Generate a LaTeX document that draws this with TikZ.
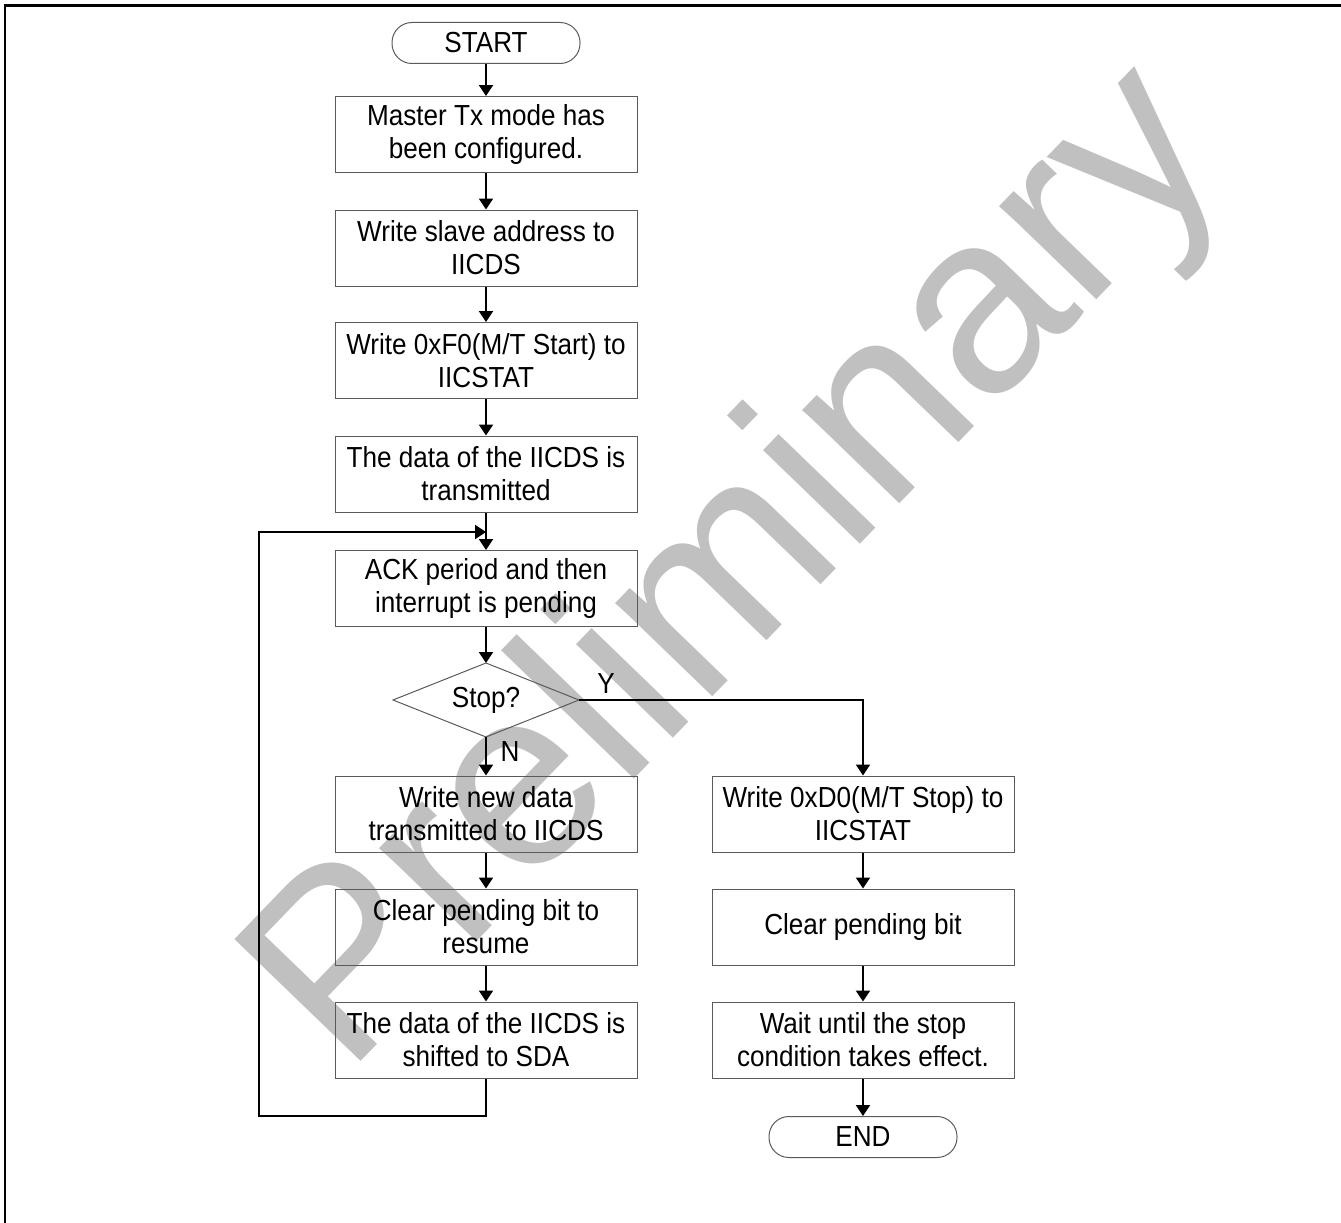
\documentclass[tikz,border=0pt]{standalone}
\usepackage{fontspec}
\setmainfont{Liberation Sans}
\newfontfamily\narrowsans[FakeStretch=0.9]{Liberation Sans}
\usetikzlibrary{arrows.meta}
\definecolor{wm}{RGB}{192,192,192}
\definecolor{boxline}{RGB}{90,90,90}
\tikzset{
  txt/.style={font=\narrowsans\fontsize{29}{33}\selectfont, align=center, inner sep=0pt},
  procbox/.style={txt, draw=boxline, line width=1pt, minimum width=302pt, minimum height=76pt},
  termbox/.style={txt, draw=boxline, line width=1pt, minimum width=188pt, minimum height=41pt, rounded corners=20pt},
  decbox/.style={draw=boxline, line width=1pt},
  conn/.style={line width=2pt, black},
  arr/.style={conn, -{Triangle[width=14pt,length=11pt]}},
  lbl/.style={txt}
}
\begin{document}
\begin{tikzpicture}[x=1pt,y=-1pt]
\useasboundingbox (0,0) rectangle (1341,1223);
% watermark
\node[rotate=46, text=wm, font=\fontsize{255}{255}\selectfont, inner sep=0pt] (wmark) at (742,572) {Preliminary};
% outer frame
\draw[line width=2.5pt] (5,1223) -- (5,5.5) -- (1341,5.5);
% nodes
\node[termbox] (start) at (486,43) {START};
\node[procbox] (b1) at (486,134.5) {Master Tx mode has\\been configured.};
\node[procbox] (b2) at (486,248) {Write slave address to\\IICDS};
\node[procbox] (b3) at (486,360.5) {Write 0xF0(M/T Start) to\\IICSTAT};
\node[procbox] (b4) at (486,474) {The data of the IICDS is\\transmitted};
\node[procbox] (b5) at (486,588.5) {ACK period and then\\interrupt is pending};
\coordinate (dtop) at (486,663);
\coordinate (dbot) at (486,737);
\coordinate (dleft) at (393,700);
\coordinate (dright) at (579,700);
\draw[decbox] (dtop) -- (dright) -- (dbot) -- (dleft) -- cycle;
\node[txt] (dia) at (486,700) {Stop?};
\node[procbox] (b6) at (486,814) {Write new data\\transmitted to IICDS};
\node[procbox] (b7) at (486,927) {Clear pending bit to\\resume};
\node[procbox] (b8) at (486,1040) {The data of the IICDS is\\shifted to SDA};
\node[procbox] (r1) at (863,814) {Write 0xD0(M/T Stop) to\\IICSTAT};
\node[procbox] (r2) at (863,927) {Clear pending bit};
\node[procbox] (r3) at (863,1040) {Wait until the stop\\condition takes effect.};
\node[termbox] (end) at (863,1137) {END};
\node[lbl] (ylab) at (606,684) {Y};
\node[lbl] (nlab) at (510,752) {N};
% loop coordinates
\coordinate (lbl1) at (259,1116);
\coordinate (ltl) at (259,532);
\coordinate (join) at (486,532);
% connectors
\draw[arr] (start.south) -- (b1.north);
\draw[arr] (b1.south) -- (b2.north);
\draw[arr] (b2.south) -- (b3.north);
\draw[arr] (b3.south) -- (b4.north);
\draw[arr] (b4.south) -- (b5.north);
\draw[arr] (b5.south) -- (dtop);
\draw[arr] (dbot) -- (b6.north);
\draw[arr] (b6.south) -- (b7.north);
\draw[arr] (b7.south) -- (b8.north);
\draw[arr] (dright) -| (r1.north);
\draw[arr] (r1.south) -- (r2.north);
\draw[arr] (r2.south) -- (r3.north);
\draw[arr] (r3.south) -- (end.north);
\draw[arr] (b8.south) |- (lbl1) -- (ltl) -- (join);
\end{tikzpicture}
\end{document}
